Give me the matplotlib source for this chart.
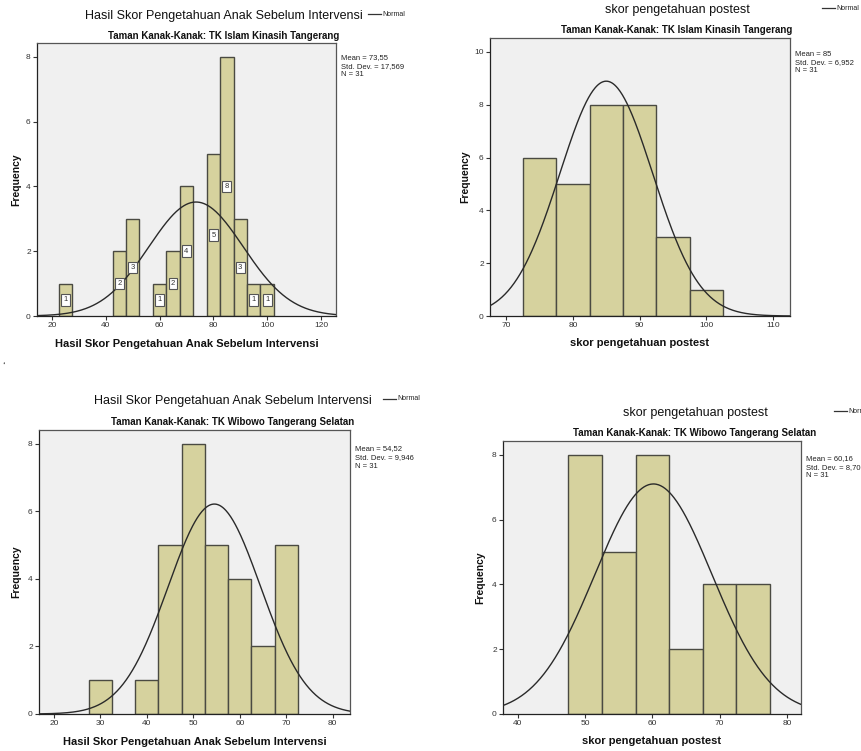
import numpy as np
import matplotlib
matplotlib.use("Agg")
import matplotlib.pyplot as plt

plt.rcParams['font.family'] = ['Liberation Sans', 'DejaVu Sans']

# ---- data ----
p1_centers = [25, 45, 50, 60, 65, 70, 80, 85, 90, 95, 100]
p1_counts = [1, 2, 3, 1, 2, 4, 5, 8, 3, 1, 1]
p1_mean, p1_sd, p1_n = 73.55, 17.569, 31

p2_centers = [75, 80, 85, 90, 95, 100]
p2_counts = [6, 5, 8, 8, 3, 1]
p2_mean, p2_sd, p2_n = 85.0, 6.952, 31

p3_centers = [30, 40, 45, 50, 55, 60, 65, 70]
p3_counts = [1, 1, 5, 8, 5, 4, 2, 5]
p3_mean, p3_sd, p3_n = 54.52, 9.946, 31

p4_centers = [50, 55, 60, 65, 70, 75]
p4_counts = [8, 5, 8, 2, 4, 4]
p4_mean, p4_sd, p4_n = 60.16, 8.705, 31

bin_width = 5

titles = ["Hasil Skor Pengetahuan Anak Sebelum Intervensi", "skor pengetahuan postest",
          "Hasil Skor Pengetahuan Anak Sebelum Intervensi", "skor pengetahuan postest"]
subtitles = ["Taman Kanak-Kanak: TK Islam Kinasih Tangerang", "Taman Kanak-Kanak: TK Islam Kinasih Tangerang",
             "Taman Kanak-Kanak: TK Wibowo Tangerang Selatan", "Taman Kanak-Kanak: TK Wibowo Tangerang Selatan"]
stats_text = [["Mean = 73,55", "Std. Dev. = 17,569", "N = 31"],
              ["Mean = 85", "Std. Dev. = 6,952", "N = 31"],
              ["Mean = 54,52", "Std. Dev. = 9,946", "N = 31"],
              ["Mean = 60,16", "Std. Dev. = 8,70", "N = 31"]]

W, H = 862, 751
fig = plt.figure(figsize=(W / 100, H / 100), dpi=100)
fig.patch.set_facecolor('white')

BAR = '#d6d29e'
EDGE = '#4a4a42'
BG = '#f0f0f0'


def px_axes(x0, y0, x1, y1):
    return fig.add_axes([x0 / W, 1 - y1 / H, (x1 - x0) / W, (y1 - y0) / H])


def ftext(x, y, s, **kw):
    fig.text(x / W, 1 - y / H, s, **kw)


panels = [
    dict(box=(37, 43, 336, 316), xlim=(14.4, 125.6), ylim=(0, 8.43), xt=[20, 40, 60, 80, 100, 120], yt=[0, 2, 4, 6, 8],
         c=p1_centers, k=p1_counts, m=p1_mean, s=p1_sd, n=p1_n, labels=True,
         title_xy=(224, 16), sub_xy=(224, 36), leg_x=368, leg_y=14, stat_xy=(341, 58),
         xlabel_y=344, ylabel_x=16),
    dict(box=(490, 38, 790, 316), xlim=(67.6, 112.5), ylim=(0, 10.53), xt=[70, 80, 90, 100, 110], yt=[0, 2, 4, 6, 8, 10],
         c=p2_centers, k=p2_counts, m=p2_mean, s=p2_sd, n=p2_n, labels=False,
         title_xy=(677, 10), sub_xy=(677, 30), leg_x=822, leg_y=8, stat_xy=(795, 54),
         xlabel_y=343, ylabel_x=465),
    dict(box=(39, 430, 350, 714), xlim=(16.8, 83.7), ylim=(0, 8.41), xt=[20, 30, 40, 50, 60, 70, 80], yt=[0, 2, 4, 6, 8],
         c=p3_centers, k=p3_counts, m=p3_mean, s=p3_sd, n=p3_n, labels=False,
         title_xy=(233, 401), sub_xy=(233, 422), leg_x=383, leg_y=399, stat_xy=(355, 449),
         xlabel_y=742, ylabel_x=16),
    dict(box=(503, 441, 801, 714), xlim=(37.8, 82.1), ylim=(0, 8.43), xt=[40, 50, 60, 70, 80], yt=[0, 2, 4, 6, 8],
         c=p4_centers, k=p4_counts, m=p4_mean, s=p4_sd, n=p4_n, labels=False,
         title_xy=(695, 413), sub_xy=(695, 433), leg_x=834, leg_y=411, stat_xy=(806, 459),
         xlabel_y=741, ylabel_x=480),
]

for i, p in enumerate(panels):
    x0, y0, x1, y1 = p['box']
    ax = px_axes(x0, y0, x1, y1)
    ax.set_facecolor(BG)
    ax.bar(p['c'], p['k'], width=bin_width, color=BAR, edgecolor=EDGE, linewidth=1.0, zorder=2)
    xs = np.linspace(p['xlim'][0], p['xlim'][1], 400)
    ys = p['n'] * bin_width / (p['s'] * np.sqrt(2 * np.pi)) * np.exp(-0.5 * ((xs - p['m']) / p['s']) ** 2)
    ax.plot(xs, ys, color='#2a2a2a', lw=1.0, zorder=3)
    if p['labels']:
        for cx, cnt in zip(p['c'], p['k']):
            ax.text(cx, cnt / 2, str(cnt), fontsize=5.5, ha='center', va='center', color='#333333', zorder=4,
                    bbox=dict(boxstyle='square,pad=0.3', fc='white', ec='#555555', lw=0.8))
    ax.set_xlim(*p['xlim'])
    ax.set_ylim(*p['ylim'])
    ax.set_xticks(p['xt'])
    ax.set_yticks(p['yt'])
    ax.tick_params(axis='both', direction='out', length=3, width=0.8, labelsize=6, colors='#333333', pad=1.5)
    for sp in ax.spines.values():
        sp.set_color('#555555')
        sp.set_linewidth(0.9)
    ax.spines['left'].set_color('#222222')
    ax.spines['bottom'].set_color('#222222')
    cx = (x0 + x1) / 2
    ftext(p['title_xy'][0], p['title_xy'][1], titles[i], fontsize=9, fontweight='medium', ha='center',
          va='center', color='#111111')
    ftext(p['sub_xy'][0], p['sub_xy'][1], subtitles[i], fontsize=7, fontweight='bold', ha='center', va='center',
          color='#111111')
    # legend
    fig.lines.append(plt.Line2D([p['leg_x'] / W, (p['leg_x'] + 13) / W], [1 - p['leg_y'] / H] * 2,
                                transform=fig.transFigure, color='#333333', lw=0.9))
    ftext(p['leg_x'] + 14, p['leg_y'], "Normal", fontsize=5, ha='left', va='center', color='#222222')
    # stats
    for j, line in enumerate(stats_text[i]):
        ftext(p['stat_xy'][0], p['stat_xy'][1] + j * 8.5, line, fontsize=5.5, ha='left', va='center',
              color='#222222')
    ftext(cx, p['xlabel_y'], titles[i], fontsize=8, fontweight='bold', ha='center', va='center', color='#111111')
    ftext(p['ylabel_x'], (y0 + y1) / 2, "Frequency", fontsize=7.5, fontweight='bold', ha='center', va='center',
          rotation=90, color='#111111')

ftext(4, 367, "\u2018", fontsize=8, ha='center', va='center', color='#333333')

fig.savefig("out.png", dpi=100, facecolor='white')
